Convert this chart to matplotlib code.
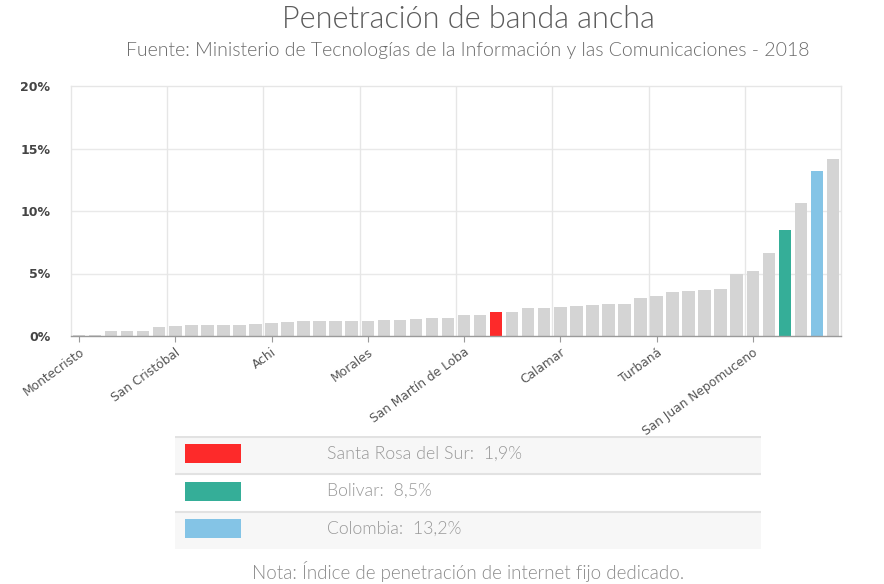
import matplotlib
matplotlib.use("Agg")
import matplotlib.pyplot as plt
from matplotlib.patches import Rectangle

# ---------------- data ----------------
categories = [""] * 48
categories[0] = "Montecristo"
categories[6] = "San Cristóbal"
categories[12] = "Achi"
categories[18] = "Morales"
categories[24] = "San Martín de Loba"
categories[26] = "Santa Rosa del Sur"
categories[30] = "Calamar"
categories[36] = "Turbaná"
categories[42] = "San Juan Nepomuceno"
categories[44] = "Bolivar"
categories[46] = "Colombia"

values = [0.08, 0.10, 0.43, 0.43, 0.43, 0.75, 0.83, 0.90, 0.90, 0.90,
          0.90, 0.99, 1.04, 1.12, 1.20, 1.20, 1.20, 1.20, 1.20, 1.28,
          1.28, 1.36, 1.41, 1.41, 1.65, 1.65, 1.90, 1.93, 2.21, 2.21,
          2.29, 2.40, 2.45, 2.59, 2.59, 3.04, 3.17, 3.55, 3.63, 3.71,
          3.79, 4.96, 5.17, 6.67, 8.50, 10.64, 13.20, 14.16]

tick_idx = [0, 6, 12, 18, 24, 30, 36, 42]
y_ticks = [0, 5, 10, 15, 20]
y_tick_labels = ["0%", "5%", "10%", "15%", "20%"]

highlight_names = ["Santa Rosa del Sur", "Bolivar", "Colombia"]
highlight_values = ["1,9%", "8,5%", "13,2%"]
highlight_colors = ["#fd2a2a", "#35ae98", "#84c4e6"]
base_color = "#d4d4d4"

title = "Penetración de banda ancha"
subtitle = "Fuente: Ministerio de Tecnologías de la Información y las Comunicaciones - 2018"
note = "Nota: Índice de penetración de internet fijo dedicado."

# ---------------- figure ----------------
W, H = 884, 584
fig = plt.figure(figsize=(W / 100, H / 100), dpi=100)
fig.patch.set_facecolor("white")

def fx(px):
    return px / W

def fy(py):
    return 1 - py / H

geo_font = ["Lato", "DejaVu Sans"]
geo_weight = 330

ax = fig.add_axes([fx(71), fy(336), fx(770), 250 / H])
colors = []
for name in categories:
    if name in highlight_names:
        colors.append(highlight_colors[highlight_names.index(name)])
    else:
        colors.append(base_color)

x = list(range(len(values)))
ax.bar(x, values, width=0.78, color=colors, edgecolor="none", zorder=3)

ax.set_xlim(-0.5, len(values) - 0.5)
ax.set_ylim(0, 20)

# grid
for yv in y_ticks[1:-1]:
    ax.axhline(yv, color="#e9e9e9", lw=1, zorder=1)
for i in tick_idx[1:]:
    ax.axvline(i - 0.5, color="#e6e6e6", lw=1, zorder=1)

for s in ["top", "left", "right"]:
    ax.spines[s].set_color("#e6e6e6")
    ax.spines[s].set_linewidth(1)
ax.spines["bottom"].set_color("#9a9a9a")
ax.spines["bottom"].set_linewidth(1)
ax.spines["bottom"].set_zorder(4)

ax.set_xticks(tick_idx)
ax.set_xticklabels([categories[i] for i in tick_idx], rotation=36,
                   ha="right", rotation_mode="anchor",
                   fontsize=8.8, color="#555555", family="DejaVu Sans")
ax.tick_params(axis="x", length=4, color="#9a9a9a", pad=3)

ax.set_yticks(y_ticks)
ax.set_yticklabels(y_tick_labels, fontsize=9, color="#444444",
                   fontweight="bold", family="DejaVu Sans")
ax.tick_params(axis="y", length=0, pad=15)

# titles
fig.text(fx(468), fy(28), title, ha="center", va="baseline",
         fontsize=22, color="#5c5c5c", family=geo_font, fontweight=geo_weight)
fig.text(fx(468), fy(56), subtitle, ha="center", va="baseline",
         fontsize=14, color="#6a6a6a", family=geo_font, fontweight=geo_weight)
fig.text(fx(468), fy(579), note, ha="center", va="baseline",
         fontsize=13.5, color="#8a8a8a", family=geo_font, fontweight=geo_weight)

# legend table
lx0, lx1, ly0, ly1 = 175, 761, 436, 549
lax = fig.add_axes([fx(lx0), fy(ly1), fx(lx1 - lx0), (ly1 - ly0) / H])
lax.set_xlim(0, lx1 - lx0)
lax.set_ylim(ly1 - ly0, 0)
lax.axis("off")
row_h = (ly1 - ly0) / 3
for r, (nm, val, col) in enumerate(zip(highlight_names, highlight_values, highlight_colors)):
    y0 = r * row_h
    bg = "#f7f7f7" if r % 2 == 0 else "white"
    lax.add_patch(Rectangle((0, y0), lx1 - lx0, row_h, facecolor=bg,
                            edgecolor="none", zorder=1))
    lax.plot([0, lx1 - lx0], [y0 + 0.6, y0 + 0.6], color="#e2e2e2", lw=1.5, zorder=2)
    lax.add_patch(Rectangle((10, y0 + 8), 56, 19, facecolor=col,
                            edgecolor="none", zorder=3))
    lax.text(152, y0 + 17.5, f"{nm}:  {val}", ha="left", va="center",
             fontsize=12.8, color="#999999", family=geo_font, fontweight=geo_weight,
             zorder=4)

fig.savefig("out.png", dpi=100, facecolor="white")
